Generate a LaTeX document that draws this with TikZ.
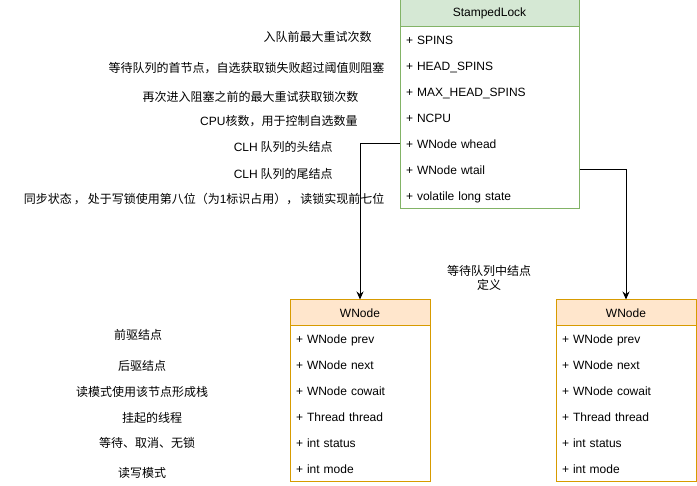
\documentclass[tikz,border=0pt]{standalone}
\usepackage{fontspec}
\setmainfont{Liberation Sans}
\newfontfamily\cjk{Noto Sans CJK SC}
\usetikzlibrary{arrows.meta}
\definecolor{lockfill}{HTML}{D5E8D4}
\definecolor{lockline}{HTML}{82B366}
\definecolor{wnodefill}{HTML}{FFE6CC}
\definecolor{wnodeline}{HTML}{D79B00}

\begin{document}
\begin{tikzpicture}[x=1pt,y=-1pt,line width=1pt,
    font=\fontsize{12}{14}\selectfont,
    lockhead/.style={rectangle,draw=lockline,fill=lockfill,
      minimum width=179pt,minimum height=27pt,inner sep=0pt},
    wnodehead/.style={rectangle,draw=wnodeline,fill=wnodefill,
      minimum width=140pt,minimum height=26pt,inner sep=0pt},
    lockrow/.style={rectangle,text width=167pt,inner xsep=6pt,inner ysep=0pt,
      text height=10.5pt,text depth=2pt,minimum height=26pt,align=left},
    wnoderow/.style={rectangle,text width=128pt,inner xsep=6pt,inner ysep=0pt,
      text height=10.5pt,text depth=2pt,minimum height=26pt,align=left},
    note/.style={inner sep=0pt,font=\cjk\fontsize{12}{14}\selectfont},
    flow/.style={-{Stealth[length=8pt,width=7pt]},black}]
  \useasboundingbox (0,0) rectangle (697,486);

  \draw[lockline,fill=white] (400,0) rectangle (579,209);
  \node[lockhead] (lock) at (489.5,13.5) {StampedLock};
  \node[lockrow] (spins) at (489.5,40) {+ SPINS};
  \node[lockrow] (headspins) at (489.5,66) {+ HEAD\_SPINS};
  \node[lockrow] (maxheadspins) at (489.5,92) {+ MAX\_HEAD\_SPINS};
  \node[lockrow] (ncpu) at (489.5,118) {+ NCPU};
  \node[lockrow] (whead) at (489.5,144) {+ WNode whead};
  \node[lockrow] (wtail) at (489.5,170) {+ WNode wtail};
  \node[lockrow] (state) at (489.5,196) {+ volatile long state};

  \node[note,anchor=east] (spinsnote) at (372,37) {入队前最大重试次数};
  \node[note,anchor=east] (headspinsnote) at (385,68) {等待队列的首节点，自选获取锁失败超过阈值则阻塞};
  \node[note,anchor=east] (maxheadspinsnote) at (359,97) {再次进入阻塞之前的最大重试获取锁次数};
  \node[note,anchor=east] (ncpunote) at (358,121) {\textrm{CPU}核数，用于控制自选数量};
  \node[note,anchor=east] (wheadnote) at (333,147) {\textrm{CLH} 队列的头结点};
  \node[note,anchor=east] (wtailnote) at (333,174) {\textrm{CLH} 队列的尾结点};
  \node[note,anchor=east] (statenote) at (385,199) {同步状态\,，\,处于写锁使用第八位（为\textrm{1}标识占用），\,读锁实现前七位};

  \draw[wnodeline,fill=white] (290,300) rectangle (430,482);
  \node[wnodehead] (headnode) at (360,313) {WNode};
  \node[wnoderow] (prev1) at (360,339) {+ WNode prev};
  \node[wnoderow] (next1) at (360,365) {+ WNode next};
  \node[wnoderow] (cowait1) at (360,391) {+ WNode cowait};
  \node[wnoderow] (thread1) at (360,417) {+ Thread thread};
  \node[wnoderow] (status1) at (360,443) {+ int status};
  \node[wnoderow] (mode1) at (360,469) {+ int mode};

  \node[note] (prevnote) at (138,335) {前驱结点};
  \node[note] (nextnote) at (142,366) {后驱结点};
  \node[note] (cowaitnote) at (142,392) {读模式使用该节点形成栈};
  \node[note] (threadnote) at (152,418) {挂起的线程};
  \node[note] (statusnote) at (147,443) {等待、取消、无锁};
  \node[note] (modenote) at (142,473) {读写模式};

  \draw[wnodeline,fill=white] (556,300) rectangle (696,482);
  \node[wnodehead] (tailnode) at (626,313) {WNode};
  \node[wnoderow] (prev2) at (626,339) {+ WNode prev};
  \node[wnoderow] (next2) at (626,365) {+ WNode next};
  \node[wnoderow] (cowait2) at (626,391) {+ WNode cowait};
  \node[wnoderow] (thread2) at (626,417) {+ Thread thread};
  \node[wnoderow] (status2) at (626,443) {+ int status};
  \node[wnoderow] (mode2) at (626,469) {+ int mode};

  \node[note,align=center] (queuenote) at (489,278) {等待队列中结点\\定义};

  \draw[flow] (whead.west) -| (headnode.north);
  \draw[flow] (wtail.east) -| (tailnode.north);
\end{tikzpicture}
\end{document}
